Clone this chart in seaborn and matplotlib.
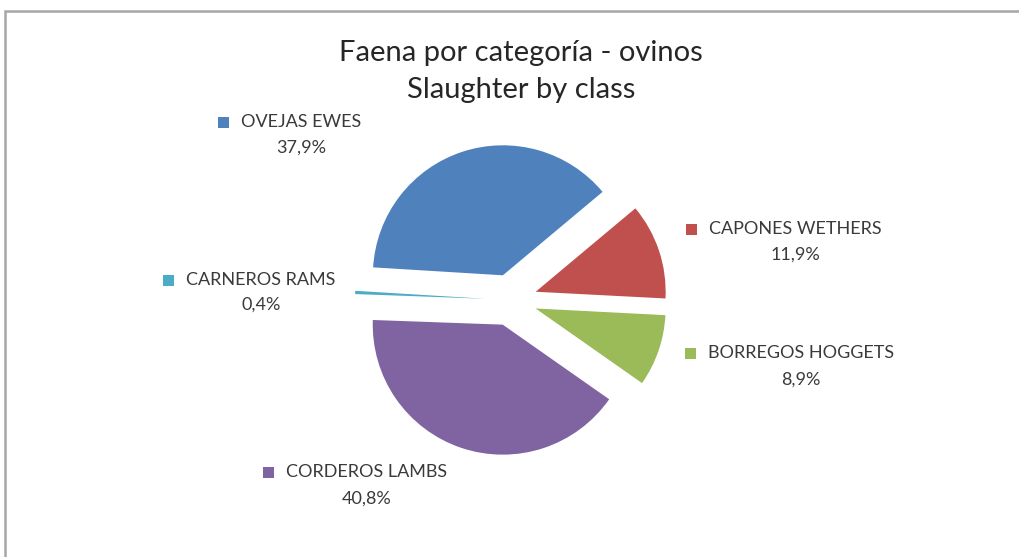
import matplotlib
matplotlib.use("Agg")
import matplotlib.pyplot as plt
import matplotlib.patches as mpatches
import seaborn as sns

# ----------------------------------------------------------
# Data
# ----------------------------------------------------------
categories = ["OVEJAS EWES", "CAPONES WETHERS", "BORREGOS HOGGETS",
              "CORDEROS LAMBS", "CARNEROS RAMS"]
shares = [37.9, 11.9, 8.9, 40.8, 0.4]
pct_labels = ["37,9%", "11,9%", "8,9%", "40,8%", "0,4%"]

colors = ["#4F81BD", "#C0504D", "#9BBB59", "#8064A2", "#4BACC6"]

sns.set_theme(style="white")
plt.rcParams["font.family"] = ["Lato", "DejaVu Sans"]

W, H = 1020, 557
fig = plt.figure(figsize=(W / 100, H / 100), dpi=100)
ax = fig.add_axes([0, 0, 1, 1])

# pie in pixel units (y measured from the bottom)
cx, cy, r = 511, H - 300, 130
ax.pie(shares, colors=colors, startangle=176.5, counterclock=False,
       explode=[26] * len(shares), center=(cx, cy), radius=r,
       wedgeprops=dict(linewidth=0))
ax.set_xlim(0, W)
ax.set_ylim(0, H)
ax.set_aspect("equal")
ax.axis("off")

# ----------------------------------------------------------
# Excel-style data labels: marker + name, percent centred below
# (x of name centre, y of name line, y of percent line), px from top
# ----------------------------------------------------------
label_pos = [(301, 122, 148), (795, 229, 255), (801, 353, 380),
             (367, 472, 499), (261, 280, 305)]
txt_color = "#3a3a3a"
for name, pct, col, (x, y1, y2) in zip(categories, pct_labels, colors, label_pos):
    t = ax.text(x, H - y1, name, ha="center", va="center",
                fontsize=13, color=txt_color)
    ax.text(x, H - y2, pct, ha="center", va="center",
            fontsize=13, color=txt_color)
    fig.canvas.draw()
    bb = t.get_window_extent()
    ax.add_patch(mpatches.Rectangle((bb.x0 - 23, H - y1 - 5.5), 11, 11,
                                    facecolor=col, edgecolor="none"))

# title
ax.text(521, H - 53, "Faena por categoría - ovinos", ha="center", va="center",
        fontsize=21, color="#262626")
ax.text(521, H - 90, "Slaughter by class", ha="center", va="center",
        fontsize=21, color="#262626")

# chart frame
fig.patches.append(mpatches.Rectangle((5 / W, -0.1), 1.2, (H - 11) / H + 0.1,
                                      transform=fig.transFigure, fill=False,
                                      edgecolor="#A6A6A6", linewidth=1.8))

fig.savefig("out.png", dpi=100)
